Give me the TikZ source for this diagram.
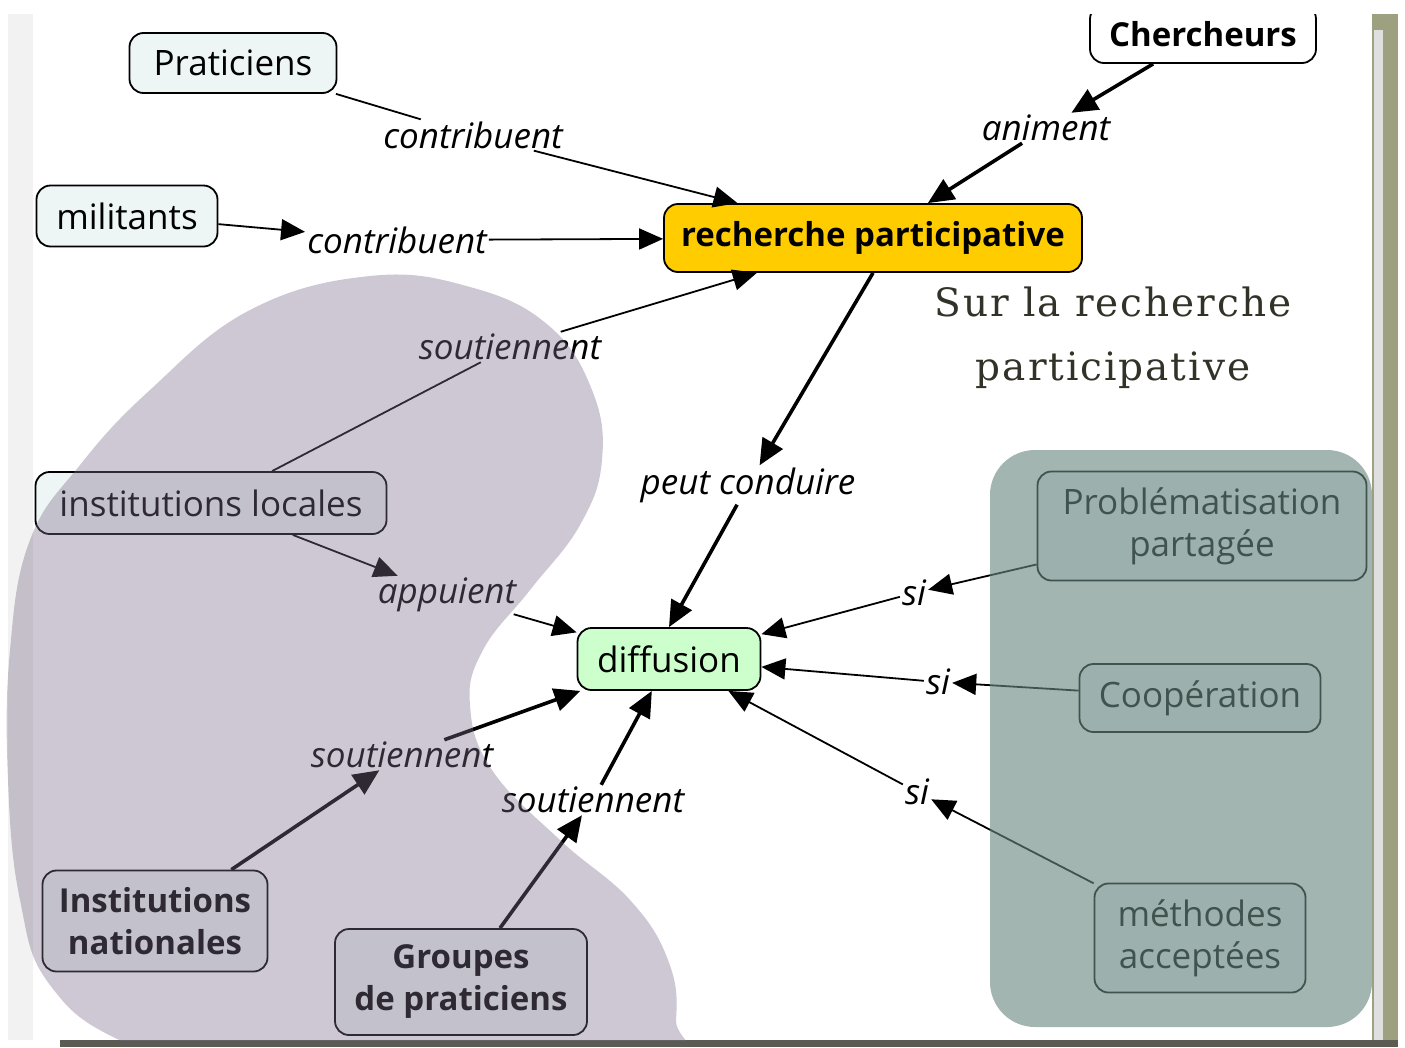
\documentclass[tikz,border=0pt]{standalone}
\usepackage{fontspec}
\setsansfont{Open Sans}
\newfontfamily\titrefont[LetterSpace=5]{DejaVu Serif}
\usetikzlibrary{arrows.meta}
\definecolor{ciel}{RGB}{238,245,245}
\definecolor{jaune}{RGB}{255,204,0}
\definecolor{menthe}{RGB}{204,255,204}
\definecolor{mauve}{RGB}{124,110,139}
\definecolor{grisvert}{RGB}{106,135,129}
\definecolor{olive}{RGB}{50,50,40}
\definecolor{reliure}{RGB}{158,161,128}
\begin{document}
\begin{tikzpicture}[x=1pt, y=-1pt,
    concept/.style={draw, line width=1.8pt, rounded corners=14pt, fill=ciel, align=center, inner sep=0pt, font=\sffamily\fontsize{35}{42}\selectfont},
    gras/.style={font=\sffamily\bfseries\fontsize{33}{42}\selectfont},
    lien/.style={inner sep=2pt, font=\sffamily\itshape\fontsize{35}{40}\selectfont},
    fleche/.style={line width=1.8pt, -{Triangle[length=24pt,width=21pt]}},
    grosse/.style={line width=3.6pt, -{Triangle[length=26pt,width=23pt]}},
    trait/.style={line width=1.8pt}]
    \useasboundingbox (0,0) rectangle (1405,1047);
    % page et reliure
    \fill[gray!10] (8,14) rectangle (33,1040);
    \fill[reliure] (1372,14) rectangle (1398,1047);
    \fill[gray!25] (1374,30) rectangle (1383,1040);
    \fill[olive!80] (60,1040) rectangle (1398,1047);
    \begin{scope}
    \clip (0,14) rectangle (1372,1040);
    % concepts
    \node[concept, minimum width=207pt, minimum height=60pt] (prat) at (233,63) {Praticiens};
    \node[concept, minimum width=181pt, minimum height=61pt] (milit) at (127,216) {militants};
    \node[concept, gras, fill=white, minimum width=226pt, minimum height=58pt] (cherch) at (1203,34) {Chercheurs};
    \node[concept, gras, fill=jaune, minimum width=418pt, minimum height=68pt] (rp) at (873,238) {recherche participative};
    \node[concept, fill=menthe, minimum width=183pt, minimum height=62pt] (diff) at (669,659) {diffusion};
    \node[concept, minimum width=351pt, minimum height=62pt] (instloc) at (211,503) {institutions locales};
    \node[concept, gras, minimum width=225pt, minimum height=101pt] (instnat) at (155,921) {Institutions\\nationales};
    \node[concept, gras, minimum width=252pt, minimum height=106pt] (groupes) at (461,982) {Groupes\\de praticiens};
    \node[concept, minimum width=329pt, minimum height=109pt] (probl) at (1202,526) {Problématisation\\partagée};
    \node[concept, minimum width=241pt, minimum height=68pt] (coop) at (1200,698) {Coopération};
    \node[concept, minimum width=211pt, minimum height=109pt] (methodes) at (1200,938) {méthodes\\acceptées};
    % mots de liaison
    \node[lien] (contrib1) at (473,135) {contribuent};
    \node[lien] (contrib2) at (397,240) {contribuent};
    \node[lien] (animent) at (1046,128) {animent};
    \node[lien] (sout1) at (510,347) {soutiennent};
    \node[lien] (peut) at (748,485) {peut conduire};
    \node[lien] (appuient) at (447,595) {appuient};
    \node[lien] (sout2) at (402,755) {soutiennent};
    \node[lien] (sout3) at (593,800) {soutiennent};
    \node[lien] (si1) at (914,593) {si};
    \node[lien] (si2) at (938,682) {si};
    \node[lien] (si3) at (917,792) {si};
    % liens
    \draw[trait] (prat) -- (contrib1);
    \draw[fleche] (contrib1) -- (rp);
    \draw[fleche] (milit) -- (contrib2);
    \draw[fleche] (contrib2) -- (rp);
    \draw[grosse] (cherch) -- (animent);
    \draw[grosse] (animent) -- (rp);
    \draw[trait] (instloc) -- (sout1);
    \draw[fleche] (sout1) -- (rp);
    \draw[grosse] (rp.south) -- (peut);
    \draw[grosse] (peut) -- (diff.north);
    \draw[fleche] (instloc) -- (appuient);
    \draw[fleche] (appuient) -- (diff);
    \draw[grosse] (instnat) -- (sout2);
    \draw[grosse] (sout2) -- (diff);
    \draw[grosse] (groupes) -- (sout3);
    \draw[grosse] (sout3) -- (diff);
    \draw[fleche] (probl) -- (si1);
    \draw[fleche] (si1) -- (diff);
    \draw[fleche] (coop) -- (si2);
    \draw[fleche] (si2) -- (diff);
    \draw[fleche] (methodes) -- (si3);
    \draw[fleche] (si3) -- (diff);
    % titre
    \node[text=olive, align=center, font=\titrefont\fontsize{39}{64}\selectfont] (titre) at (1113,338) {Sur la recherche\\participative};
    % zones colorees
    \fill[mauve, opacity=0.38] plot[smooth cycle, tension=0.7] coordinates {(370,276) (470,287) (548,325) (592,390) (602,460) (580,525) (530,590) (483,650) (470,705) (492,770) (560,840) (630,900) (668,960) (676,1020) (660,1080) (300,1100) (130,1045) (50,985) (20,900) (8,780) (10,650) (30,540) (80,465) (150,390) (250,310)};
    \fill[grisvert, opacity=0.62, rounded corners=45pt] (990,450) rectangle (1372,1027);
    \end{scope}
\end{tikzpicture}
\end{document}
